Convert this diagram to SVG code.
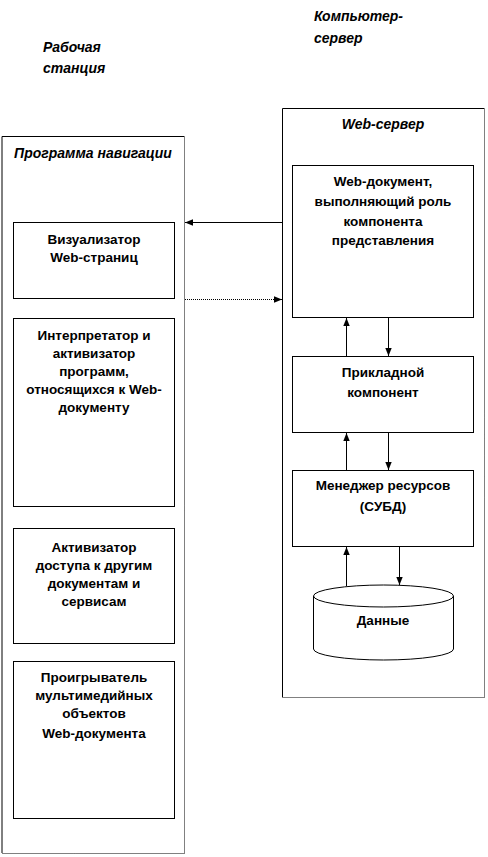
<svg xmlns="http://www.w3.org/2000/svg" width="488" height="857" viewBox="0 0 488 857">
<style>
.box{fill:#fff;stroke:#000;stroke-width:1}
.edge{stroke:#000;stroke-width:1;fill:none}
.dot{stroke:#000;stroke-width:1;stroke-dasharray:1 1;fill:none}
.t{font-family:"Liberation Sans",Arial,sans-serif;font-weight:bold;font-size:13.5px;text-anchor:middle;fill:#000}
.h{font-family:"Liberation Sans",Arial,sans-serif;font-weight:bold;font-style:italic;font-size:14px;fill:#000}
</style>
<defs>
<marker id="ah" viewBox="0 0 10 10" refX="10" refY="5" markerWidth="8" markerHeight="8" markerUnits="userSpaceOnUse" orient="auto">
<path d="M0,1 L10,5 L0,9 z" fill="#000"/>
</marker>
</defs>
<rect width="488" height="857" fill="#fff"/>
<g id="labels">
<text class="h" x="43" y="52">Рабочая</text>
<text class="h" x="43" y="73">станция</text>
<text class="h" x="314" y="21">Компьютер-</text>
<text class="h" x="314" y="43">сервер</text>
</g>
<g id="workstation">
<path class="edge" d="M2,853 V136.5 H184"/>
<path class="dot" d="M184.5,136.5 V853.5 H2"/>
<text class="h" x="93" y="158" text-anchor="middle">Программа навигации</text>
</g>
<g id="visualizer">
<rect class="box" x="13.5" y="222.5" width="161" height="76"/>
<text class="t" x="94" y="244">Визуализатор</text>
<text class="t" x="94" y="262">Web-страниц</text>
</g>
<g id="interpreter">
<rect class="box" x="13.5" y="318.5" width="161" height="188"/>
<text class="t" x="94" y="340">Интерпретатор  и</text>
<text class="t" x="94" y="358">активизатор</text>
<text class="t" x="94" y="376">программ,</text>
<text class="t" x="94" y="394">относящихся к Web-</text>
<text class="t" x="94" y="412">документу</text>
</g>
<g id="activator">
<rect class="box" x="13.5" y="528.5" width="161" height="115"/>
<text class="t" x="94" y="552">Активизатор</text>
<text class="t" x="94" y="570">доступа к другим</text>
<text class="t" x="94" y="588">документам и</text>
<text class="t" x="94" y="606">сервисам</text>
</g>
<g id="player">
<rect class="box" x="13.5" y="661.5" width="161" height="157"/>
<text class="t" x="94" y="682">Проигрыватель</text>
<text class="t" x="94" y="700">мультимедийных</text>
<text class="t" x="94" y="718">объектов</text>
<text class="t" x="94" y="738">Web-документа</text>
</g>
<g id="webserver">
<path class="edge" d="M282.5,697 V108.5 H484"/>
<path class="dot" d="M484.5,108.5 V697.5 H282"/>
<text class="h" x="383" y="129" text-anchor="middle">Web-сервер</text>
</g>
<g id="webdoc">
<rect class="box" x="292.5" y="165.5" width="181" height="152"/>
<text class="t" x="383" y="186">Web-документ,</text>
<text class="t" x="383" y="206">выполняющий роль</text>
<text class="t" x="383" y="226">компонента</text>
<text class="t" x="383" y="245">представления</text>
</g>
<g id="app">
<rect class="box" x="292.5" y="356.5" width="181" height="76"/>
<text class="t" x="383" y="377">Прикладной</text>
<text class="t" x="383" y="397">компонент</text>
</g>
<g id="dbms">
<rect class="box" x="292.5" y="470.5" width="181" height="76"/>
<text class="t" x="383" y="490">Менеджер ресурсов</text>
<text class="t" x="383" y="511">(СУБД)</text>
</g>
<g id="data">
<path class="box" d="M313.5,596 V649 A70,11 0 0 0 453.5,649 V596 A70,11 0 0 0 313.5,596 A70,11 0 0 0 453.5,596"/>
<text class="t" x="383" y="625">Данные</text>
</g>
<g id="connectors">
<line class="edge" x1="282" y1="222.5" x2="185" y2="222.5" marker-end="url(#ah)"/>
<line class="dot" x1="185" y1="299.5" x2="282" y2="299.5" marker-end="url(#ah)"/>
<line class="edge" x1="346.5" y1="356" x2="346.5" y2="318" marker-end="url(#ah)"/>
<line class="edge" x1="388.5" y1="318" x2="388.5" y2="356" marker-end="url(#ah)"/>
<line class="edge" x1="346.5" y1="470" x2="346.5" y2="433" marker-end="url(#ah)"/>
<line class="edge" x1="388.5" y1="433" x2="388.5" y2="470" marker-end="url(#ah)"/>
<line class="edge" x1="346.5" y1="586" x2="346.5" y2="547" marker-end="url(#ah)"/>
<line class="edge" x1="399.5" y1="547" x2="399.5" y2="585" marker-end="url(#ah)"/>
</g>
</svg>
